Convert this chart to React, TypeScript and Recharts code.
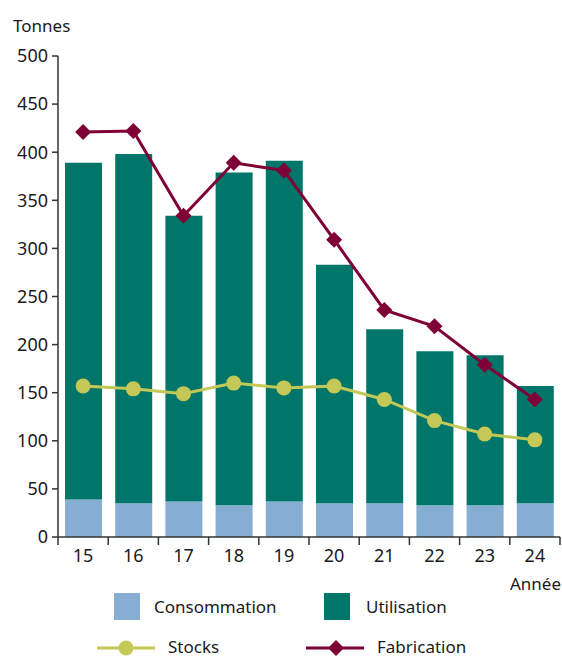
import React from 'react';
import { ComposedChart, Bar, Line, XAxis, YAxis } from 'recharts';

const years = ['15', '16', '17', '18', '19', '20', '21', '22', '23', '24'];
const consommation = [39, 35, 37, 33, 37, 35, 35, 33, 33, 35];
const utilisation = [350, 363, 297, 346, 354, 248, 181, 160, 156, 122];
const stocks = [157, 154, 149, 160, 155, 157, 143, 121, 107, 101];
const fabrication = [421, 422, 334, 389, 381, 309, 236, 219, 179, 143];
const yTicks = [0, 50, 100, 150, 200, 250, 300, 350, 400, 450, 500];

const data = years.map((year, i) => ({
  year,
  consommation: consommation[i],
  utilisation: utilisation[i],
  stocks: stocks[i],
  fabrication: fabrication[i],
}));

const FONT = '"Noto Sans", sans-serif';
const TEXT = '#1a1a1a';
const AXIS = '#333333';
const C_CONSO = '#86aed2';
const C_UTIL = '#00766a';
const C_STOCK = '#c4c857';
const C_FAB = '#7e0036';

const W = 562;
const H = 657;
const PLOT_LEFT = 58;
const PLOT_RIGHT = 560;
const PLOT_BOTTOM = 537;
const BAND = (PLOT_RIGHT - PLOT_LEFT) / years.length;

const YearTick = ({ x, payload, index }: any) => (
  <g>
    <line x1={x - BAND / 2} x2={x - BAND / 2} y1={PLOT_BOTTOM} y2={PLOT_BOTTOM + 8} stroke={AXIS} strokeWidth={1.5} />
    {index === years.length - 1 && (
      <line x1={x + BAND / 2} x2={x + BAND / 2} y1={PLOT_BOTTOM} y2={PLOT_BOTTOM + 8} stroke={AXIS} strokeWidth={1.5} />
    )}
    <text x={x} y={PLOT_BOTTOM + 25} textAnchor="middle" fontSize={18} fontFamily={FONT} fill={TEXT}>
      {payload.value}
    </text>
  </g>
);

const Diamond = ({ cx, cy }: any) => {
  if (cx == null || cy == null) return null;
  const r = 8;
  return <path d={`M${cx},${cy - r}L${cx + r},${cy}L${cx},${cy + r}L${cx - r},${cy}Z`} fill={C_FAB} />;
};

const legendText: React.CSSProperties = {
  position: 'absolute',
  fontFamily: FONT,
  fontSize: 17,
  color: TEXT,
  lineHeight: '18px',
  whiteSpace: 'nowrap',
};

export default function App() {
  // fixed to the viewport so the page never gets scrollbars
  return (
    <div style={{ position: 'fixed', left: 0, top: 0, width: W, height: H, overflow: 'hidden', background: '#fff' }}>
      <div style={{ ...legendText, left: 13, top: 17 }}>Tonnes</div>
      <ComposedChart
        width={W}
        height={H}
        data={data}
        margin={{ top: 56, right: W - PLOT_RIGHT, left: PLOT_LEFT - 50, bottom: 90 }}
        barSize={37}
      >
        <XAxis
          dataKey="year"
          tickLine={false}
          height={30}
          tick={<YearTick />}
          axisLine={{ stroke: AXIS, strokeWidth: 1.5 }}
          interval={0}
        />
        <YAxis
          domain={[0, 500]}
          ticks={yTicks}
          width={50}
          tickSize={6}
          tickMargin={4}
          interval={0}
          axisLine={{ stroke: AXIS, strokeWidth: 1.5 }}
          tickLine={{ stroke: AXIS, strokeWidth: 1.5 }}
          tick={{ fontSize: 18, fontFamily: FONT, fill: TEXT }}
        />
        <Bar dataKey="consommation" stackId="a" fill={C_CONSO} isAnimationActive={false} />
        <Bar dataKey="utilisation" stackId="a" fill={C_UTIL} isAnimationActive={false} />
        <Line
          dataKey="stocks"
          stroke={C_STOCK}
          strokeWidth={3}
          dot={{ r: 7.5, fill: C_STOCK, stroke: 'none' }}
          activeDot={false}
          isAnimationActive={false}
        />
        <Line
          dataKey="fabrication"
          stroke={C_FAB}
          strokeWidth={3}
          dot={<Diamond />}
          activeDot={false}
          isAnimationActive={false}
        />
      </ComposedChart>
      <div style={{ ...legendText, right: 1, top: 575 }}>Année</div>

      <div style={{ position: 'absolute', left: 114, top: 593, width: 26, height: 27, background: C_CONSO }} />
      <div style={{ ...legendText, left: 154, top: 598 }}>Consommation</div>
      <div style={{ position: 'absolute', left: 324, top: 593, width: 26, height: 27, background: C_UTIL }} />
      <div style={{ ...legendText, left: 366, top: 598 }}>Utilisation</div>

      <svg style={{ position: 'absolute', left: 0, top: 636 }} width={W} height={21}>
        <line x1={97} x2={155} y1={12} y2={12} stroke={C_STOCK} strokeWidth={3} />
        <circle cx={126} cy={12} r={7.5} fill={C_STOCK} />
        <line x1={306} x2={364} y1={12} y2={12} stroke={C_FAB} strokeWidth={3} />
        <path d="M336,4L344,12L336,20L328,12Z" fill={C_FAB} />
      </svg>
      <div style={{ ...legendText, left: 168, top: 638 }}>Stocks</div>
      <div style={{ ...legendText, left: 377, top: 638 }}>Fabrication</div>
    </div>
  );
}
